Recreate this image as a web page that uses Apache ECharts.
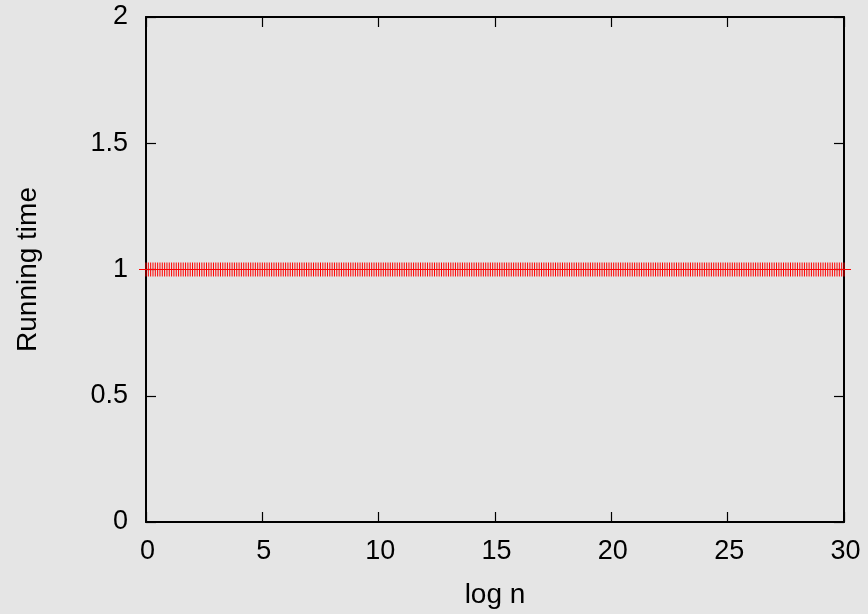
<!DOCTYPE html>
<html>
<head>
<meta charset="utf-8">
<script src="https://cdn.jsdelivr.net/npm/echarts@6/dist/echarts.min.js"></script>
<style>
html,body{margin:0;padding:0;background:#e5e5e5;}
#c{width:868px;height:614px;}
</style>
</head>
<body>
<div id="c"></div>
<script>
// x positions (log n)
var logN = [
0,0.1,0.2,0.3,0.4,0.5,0.6,0.7,0.8,0.9,
1,1.1,1.2,1.3,1.4,1.5,1.6,1.7,1.8,1.9,
2,2.1,2.2,2.3,2.4,2.5,2.6,2.7,2.8,2.9,
3,3.1,3.2,3.3,3.4,3.5,3.6,3.7,3.8,3.9,
4,4.1,4.2,4.3,4.4,4.5,4.6,4.7,4.8,4.9,
5,5.1,5.2,5.3,5.4,5.5,5.6,5.7,5.8,5.9,
6,6.1,6.2,6.3,6.4,6.5,6.6,6.7,6.8,6.9,
7,7.1,7.2,7.3,7.4,7.5,7.6,7.7,7.8,7.9,
8,8.1,8.2,8.3,8.4,8.5,8.6,8.7,8.8,8.9,
9,9.1,9.2,9.3,9.4,9.5,9.6,9.7,9.8,9.9,
10,10.1,10.2,10.3,10.4,10.5,10.6,10.7,10.8,10.9,
11,11.1,11.2,11.3,11.4,11.5,11.6,11.7,11.8,11.9,
12,12.1,12.2,12.3,12.4,12.5,12.6,12.7,12.8,12.9,
13,13.1,13.2,13.3,13.4,13.5,13.6,13.7,13.8,13.9,
14,14.1,14.2,14.3,14.4,14.5,14.6,14.7,14.8,14.9,
15,15.1,15.2,15.3,15.4,15.5,15.6,15.7,15.8,15.9,
16,16.1,16.2,16.3,16.4,16.5,16.6,16.7,16.8,16.9,
17,17.1,17.2,17.3,17.4,17.5,17.6,17.7,17.8,17.9,
18,18.1,18.2,18.3,18.4,18.5,18.6,18.7,18.8,18.9,
19,19.1,19.2,19.3,19.4,19.5,19.6,19.7,19.8,19.9,
20,20.1,20.2,20.3,20.4,20.5,20.6,20.7,20.8,20.9,
21,21.1,21.2,21.3,21.4,21.5,21.6,21.7,21.8,21.9,
22,22.1,22.2,22.3,22.4,22.5,22.6,22.7,22.8,22.9,
23,23.1,23.2,23.3,23.4,23.5,23.6,23.7,23.8,23.9,
24,24.1,24.2,24.3,24.4,24.5,24.6,24.7,24.8,24.9,
25,25.1,25.2,25.3,25.4,25.5,25.6,25.7,25.8,25.9,
26,26.1,26.2,26.3,26.4,26.5,26.6,26.7,26.8,26.9,
27,27.1,27.2,27.3,27.4,27.5,27.6,27.7,27.8,27.9,
28,28.1,28.2,28.3,28.4,28.5,28.6,28.7,28.8,28.9,
29,29.1,29.2,29.3,29.4,29.5,29.6,29.7,29.8,29.9,
30
];
// running time values
var runningTime = [
1,1,1,1,1,1,1,1,1,1, 1,1,1,1,1,1,1,1,1,1, 1,1,1,1,1,1,1,1,1,1,
1,1,1,1,1,1,1,1,1,1, 1,1,1,1,1,1,1,1,1,1, 1,1,1,1,1,1,1,1,1,1,
1,1,1,1,1,1,1,1,1,1, 1,1,1,1,1,1,1,1,1,1, 1,1,1,1,1,1,1,1,1,1,
1,1,1,1,1,1,1,1,1,1, 1,1,1,1,1,1,1,1,1,1, 1,1,1,1,1,1,1,1,1,1,
1,1,1,1,1,1,1,1,1,1, 1,1,1,1,1,1,1,1,1,1, 1,1,1,1,1,1,1,1,1,1,
1,1,1,1,1,1,1,1,1,1, 1,1,1,1,1,1,1,1,1,1, 1,1,1,1,1,1,1,1,1,1,
1,1,1,1,1,1,1,1,1,1, 1,1,1,1,1,1,1,1,1,1, 1,1,1,1,1,1,1,1,1,1,
1,1,1,1,1,1,1,1,1,1, 1,1,1,1,1,1,1,1,1,1, 1,1,1,1,1,1,1,1,1,1,
1,1,1,1,1,1,1,1,1,1, 1,1,1,1,1,1,1,1,1,1, 1,1,1,1,1,1,1,1,1,1,
1,1,1,1,1,1,1,1,1,1, 1,1,1,1,1,1,1,1,1,1, 1,1,1,1,1,1,1,1,1,1,
1
];
var xTicks = [0, 5, 10, 15, 20, 25, 30];
var yTicks = [0, 0.5, 1, 1.5, 2];
var xTitle = 'log n';
var yTitle = 'Running time';

var FONT = '"Liberation Sans", Arial, Helvetica, sans-serif';
var points = logN.map(function (x, i) { return [x, runningTime[i]]; });

var chart = echarts.init(document.getElementById('c'), null, {renderer: 'canvas'});

function axisBase(extra) {
  var a = {
    axisLine: {show: true, onZero: false, lineStyle: {color: '#000', width: 2}},
    axisTick: {show: true, inside: true, length: 10, lineStyle: {color: '#000', width: 1.2}},
    splitLine: {show: false}
  };
  for (var k in extra) a[k] = extra[k];
  return a;
}

chart.setOption({
  animation: false,
  backgroundColor: '#e5e5e5',
  textStyle: {fontFamily: FONT},
  grid: {left: 146, right: 24, top: 17, bottom: 92, containLabel: false},
  xAxis: [
    axisBase({
      type: 'value', position: 'bottom',
      min: xTicks[0], max: xTicks[xTicks.length - 1], interval: xTicks[1] - xTicks[0],
      axisLabel: {show: true, color: '#000', fontSize: 27, fontFamily: FONT, margin: 16,
                  padding: [0, 0, 0, 3]},
      name: xTitle, nameLocation: 'middle', nameGap: 59,
      nameTextStyle: {color: '#000', fontSize: 28, fontFamily: FONT}
    }),
    axisBase({
      type: 'value', position: 'top',
      min: xTicks[0], max: xTicks[xTicks.length - 1], interval: xTicks[1] - xTicks[0],
      axisLabel: {show: false}
    })
  ],
  yAxis: [
    axisBase({
      type: 'value', position: 'left',
      min: yTicks[0], max: yTicks[yTicks.length - 1], interval: yTicks[1] - yTicks[0],
      axisLabel: {show: true, color: '#000', fontSize: 27, fontFamily: FONT, margin: 18},
      name: yTitle, nameLocation: 'middle', nameGap: 104,
      nameTextStyle: {color: '#000', fontSize: 28, fontFamily: FONT}
    }),
    axisBase({
      type: 'value', position: 'right',
      min: yTicks[0], max: yTicks[yTicks.length - 1], interval: yTicks[1] - yTicks[0],
      axisLabel: {show: false}
    })
  ],
  series: [{
    type: 'scatter',
    xAxisIndex: 0, yAxisIndex: 0,
    data: points,
    symbol: 'path://M6.5,0 L7.5,0 L7.5,14 L6.5,14 Z M0,6.5 L14,6.5 L14,7.5 L0,7.5 Z',
    symbolSize: [14, 14],
    itemStyle: {color: '#ff0000', opacity: 1},
    clip: false,
    z: 1
  }]
});
</script>
</body>
</html>
